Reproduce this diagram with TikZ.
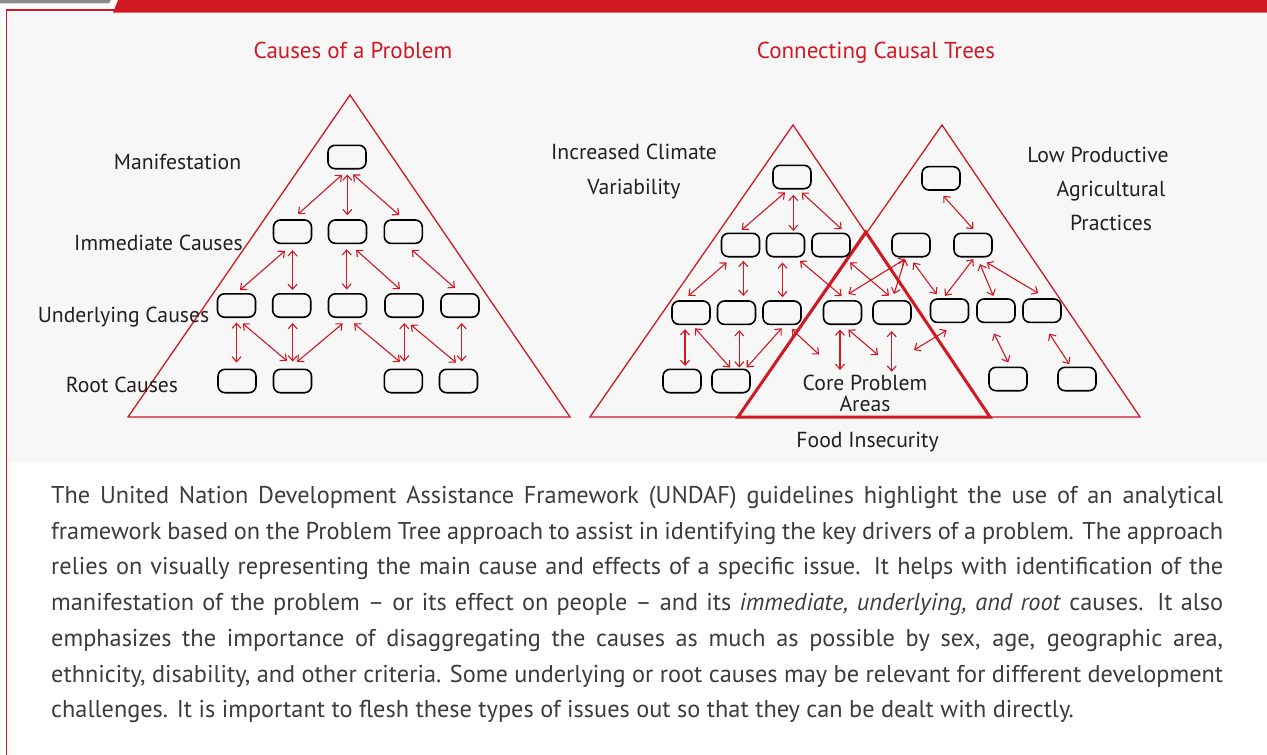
\documentclass[tikz,border=0pt]{standalone}
\usepackage{fontspec}
\setmainfont{PT Sans}
\usetikzlibrary{arrows.meta}
\definecolor{ured}{RGB}{208,25,34}
\definecolor{bggray}{RGB}{247,247,247}
\definecolor{tabgray}{RGB}{140,140,140}
\definecolor{lblgray}{RGB}{35,31,32}
\definecolor{bodygray}{RGB}{60,60,60}
\tikzset{
  box/.style={draw=black, line width=1.6pt, rounded corners=7pt, minimum width=38pt, minimum height=23.4pt, inner sep=0pt},
  lnk/.style={<->, draw=ured, line width=1.1pt},
  tri/.style={draw=ured, line width=1.3pt, line join=miter},
  coretri/.style={draw=ured, line width=3pt, line join=miter},
  lbl/.style={anchor=base, text=lblgray, font=\fontsize{21.7}{26}\selectfont, inner sep=0pt},
  ttl/.style={anchor=base, text=ured, font=\fontsize{23}{27}\selectfont, inner sep=0pt},
}
\begin{document}
\begin{tikzpicture}[x=1pt,y=-1pt,>={Straight Barb[length=5pt,width=9pt]}]
\useasboundingbox (0,0) rectangle (1267,755);
\fill[white] (0,0) rectangle (1267,755);
\fill[bggray] (9,12.5) rectangle (1267,462);
\fill[tabgray] (0,0) -- (111,0) -- (109,3.3) -- (0,3.3) -- cycle;
\fill[ured] (118,0) -- (1267,0) -- (1267,12.5) -- (113,12.5) -- cycle;
\draw[ured, line width=1.2pt] (6.5,755) -- (6.5,10) -- (115,10);

% titles
\node[ttl] (t1) at (353,58.5) {Causes of a Problem};
\node[ttl] (t2) at (876,58.5) {Connecting Causal Trees};

% ---------- left triangle ----------
\draw[tri] (350,95) -- (570,417) -- (128,417) -- cycle;
\node[lbl] (lman) at (177.5,169) {Manifestation};
\node[lbl] (limm) at (158.5,250) {Immediate Causes};
\node[lbl] (lund) at (123.5,322) {Underlying Causes};
\node[lbl] (lroot) at (122,392) {Root Causes};

\node[box] (m) at (347,157) {};
\node[box] (i1) at (292.5,231.7) {};
\node[box] (i2) at (347.5,231.7) {};
\node[box] (i3) at (403.3,231.7) {};
\node[box] (u1) at (236.5,305.5) {};
\node[box] (u2) at (291.7,305.5) {};
\node[box] (u3) at (347.5,305.5) {};
\node[box] (u4) at (404,305.5) {};
\node[box] (u5) at (460,305.5) {};
\node[box] (r1) at (237,381) {};
\node[box] (r2) at (292.5,381) {};
\node[box] (r3) at (403.3,381) {};
\node[box] (r4) at (458.5,381) {};

\draw[lnk] ([shift={(-5,5.3)}]m.south) -- ([shift={(5.5,-5)}]i1.north);
\draw[lnk] ([shift={(0.3,5)}]m.south) -- ([shift={(-0.2,-4)}]i2.north);
\draw[lnk] ([shift={(6,5)}]m.south) -- ([shift={(-4,-4)}]i3.north);

\draw[lnk] ([shift={(-7.5,6.6)}]i1.south) -- ([shift={(3.5,-3)}]u1.north);
\draw[lnk] ([shift={(0,6)}]i1.south) -- ([shift={(0.8,-3)}]u2.north);
\draw[lnk] ([shift={(-0.8,5)}]i2.south) -- ([shift={(-0.8,-3.5)}]u3.north);
\draw[lnk] ([shift={(8.5,5.6)}]i2.south) -- ([shift={(-4,-3.8)}]u4.north);
\draw[lnk] ([shift={(8.4,5.6)}]i3.south) -- ([shift={(-5,-4.8)}]u5.north);

\draw[lnk] ([shift={(0,4.5)}]u1.south) -- ([shift={(-0.5,-6)}]r1.north);
\draw[lnk] ([shift={(6.2,5.5)}]u1.south) -- ([shift={(-5.5,-7.6)}]r2.north);
\draw[lnk] ([shift={(1,5)}]u2.south) -- ([shift={(0.2,-7)}]r2.north);
\draw[lnk] ([shift={(-4.8,5.5)}]u3.south) -- ([shift={(4.5,-6.6)}]r2.north);
\draw[lnk] ([shift={(6.5,5.5)}]u3.south) -- ([shift={(-3.3,-6.6)}]r3.north);
\draw[lnk] ([shift={(0.3,5)}]u4.south) -- ([shift={(1,-7)}]r3.north);
\draw[lnk] ([shift={(6.7,6.8)}]u4.south) -- ([shift={(-2.5,-6)}]r4.north);
\draw[lnk] ([shift={(1.7,5)}]u5.south) -- ([shift={(3.2,-7)}]r4.north);

% ---------- right triangles ----------
\draw[tri] (590,417) -- (793,125) -- (990,417) -- cycle;
\draw[tri] (738,417) -- (942,125) -- (1140,417) -- cycle;
\draw[coretri] (738,417) -- (865.8,232) -- (990,417) -- cycle;

\node[lbl] (lic) at (634,159) {Increased Climate};
\node[lbl] (lvar) at (634,194) {Variability};
\node[lbl] (llow) at (1098,162) {Low Productive};
\node[lbl] (lagr) at (1111,196) {Agricultural};
\node[lbl] (lpra) at (1111,230) {Practices};
\node[lbl] (lcore) at (865,390) {Core Problem};
\node[lbl] (lare) at (865,411.5) {Areas};
\node[lbl] (lfood) at (867.5,447) {Food Insecurity};

% tree A
\node[box] (at) at (792,177) {};
\node[box] (a2a) at (740.5,245) {};
\node[box] (a2b) at (785.5,245) {};
\node[box] (a2c) at (831,245) {};
\node[box] (a3a) at (691,312.7) {};
\node[box] (a3b) at (736.5,312.7) {};
\node[box] (a3c) at (782,312.7) {};
\node[box] (a4a) at (682,381) {};
\node[box] (a4b) at (731,381) {};
% core
\node[box] (c1) at (842.5,312.5) {};
\node[box] (c2) at (892,312.5) {};
% tree B
\node[box] (bt) at (941,178.3) {};
\node[box] (b2a) at (911,245) {};
\node[box] (b2b) at (973,245) {};
\node[box] (b3a) at (949.5,310.7) {};
\node[box] (b3b) at (996,310.7) {};
\node[box] (b3c) at (1042,310.7) {};
\node[box] (b4a) at (1008,379) {};
\node[box] (b4b) at (1077,379) {};

% free ends
\coordinate (f1) at (819,354.5);
\coordinate (f2) at (840,370);
\coordinate (f3) at (878,355);
\coordinate (f4) at (891.7,371.7);
\coordinate (f5) at (914,350);

\draw[lnk] ([shift={(-7,3)}]at.south) -- ([shift={(1.2,-2.6)}]a2a.north);
\draw[lnk] ([shift={(1.3,5.3)}]at.south) -- ([shift={(7.8,-1.6)}]a2b.north);
\draw[lnk] ([shift={(9.7,3)}]at.south) -- ([shift={(10.7,-3.3)}]a2c.north);

\draw[lnk] ([shift={(-13.8,5)}]a2a.south) -- ([shift={(-2.7,-4.3)}]a3a.north);
\draw[lnk] ([shift={(2.8,3.3)}]a2a.south) -- ([shift={(6.8,-4.3)}]a3b.north);
\draw[lnk] ([shift={(-3,5)}]a2b.south) -- ([shift={(0.5,-3)}]a3c.north);
\draw[lnk] ([shift={(14.5,3.3)}]a2b.south) -- ([shift={(-0.8,-4)}]c1.north);
\draw[lnk] ([shift={(19,5)}]a2c.south) -- ([shift={(-3,-4.3)}]c2.north);

\draw[lnk] ([shift={(-6,4)}]a3a.south) -- ([shift={(3,-2.6)}]a4a.north);
\draw[lnk] ([shift={(4,3)}]a3a.south) -- ([shift={(-1,-1)}]a4b.north);
\draw[lnk] ([shift={(2.8,5)}]a3b.south) -- ([shift={(8.3,-1)}]a4b.north);
\draw[lnk] ([shift={(-0.3,3)}]a3c.south) -- ([shift={(15.7,-1)}]a4b.north);
\draw[lnk] ([shift={(9.7,4)}]a3c.south) -- (f1);

\draw[lnk] ([shift={(2.3,5)}]bt.south) -- ([shift={(0.3,-3.3)}]b2b.north);
\draw[lnk] ([shift={(-6,1.6)}]b2a.south) -- ([shift={(5.8,-6)}]c1.north);
\draw[lnk] ([shift={(-6,1.6)}]b2a.south) -- ([shift={(2,-6)}]c2.north);
\draw[lnk] ([shift={(2.3,5)}]b2a.south) -- ([shift={(-12.8,-4)}]b3a.north);
\draw[lnk] ([shift={(0.3,1.6)}]b2b.south) -- ([shift={(-4.5,-2.3)}]b3a.north);
\draw[lnk] ([shift={(7,6.6)}]b2b.south) -- ([shift={(-2.7,-2.3)}]b3b.north);
\draw[lnk] ([shift={(13.7,5)}]b2b.south) -- ([shift={(-3.7,-5)}]b3c.north);
\draw[lnk] ([shift={(-2,10.3)}]b3b.south) -- ([shift={(0.3,-4)}]b4a.north);
\draw[lnk] ([shift={(7.3,10.3)}]b3c.south) -- ([shift={(-7.7,-2.3)}]b4b.north);
\draw[lnk] ([shift={(-2.8,7)}]b3a.south) -- (f5);

\draw[lnk] ([shift={(-2.5,4.6)}]c1.south) -- (f2);
\draw[lnk] ([shift={(5.8,4.6)}]c1.south) -- (f3);
\draw[lnk] ([shift={(-0.3,6)}]c2.south) -- (f4);

% ---------- body text ----------
\node[anchor=north west, text width=1172pt, align=justify, inner sep=0pt, text=bodygray,
      font=\fontsize{24.3}{35.7}\selectfont] (body) at (51,486) {\tolerance=10000
The United Nation Development Assistance Framework (UNDAF) guidelines highlight the use of an analytical\linebreak
framework based on the Problem Tree approach to assist in identifying the key drivers of a problem. The approach\linebreak
relies on visually representing the main cause and effects of a specific issue. It helps with identification of the\linebreak
manifestation of the problem – or its effect on people – and its \textit{immediate, underlying, and root} causes. It also\linebreak
emphasizes the importance of disaggregating the causes as much as possible by sex, age, geographic area,\linebreak
ethnicity, disability, and other criteria. Some underlying or root causes may be relevant for different development\linebreak
challenges. It is important to flesh these types of issues out so that they can be dealt with directly.};
\end{tikzpicture}
\end{document}
